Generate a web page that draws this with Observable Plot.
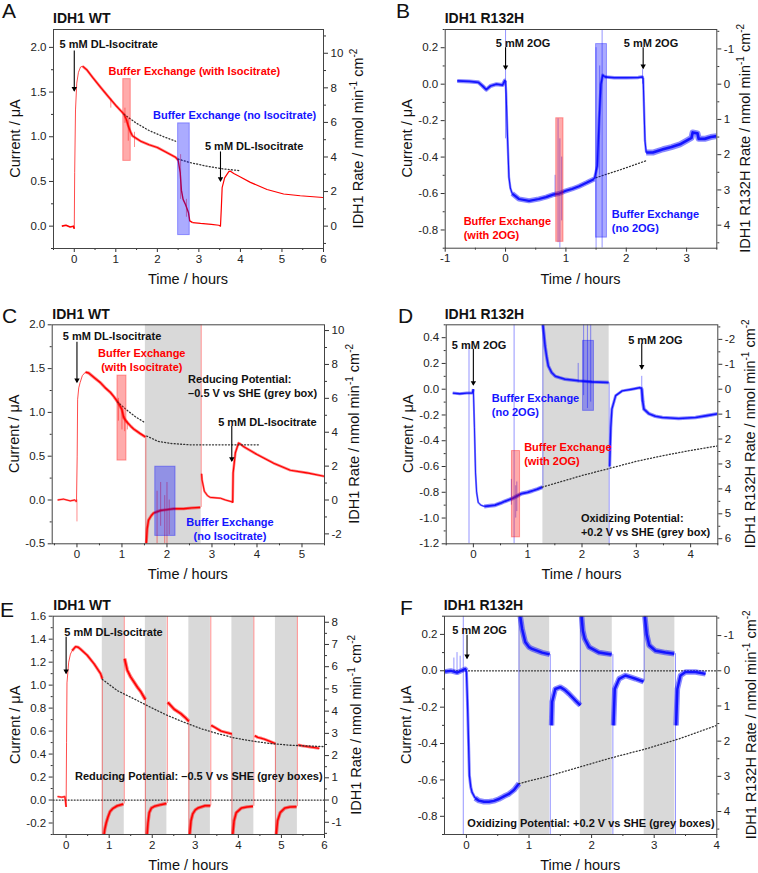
<!DOCTYPE html>
<html><head><meta charset="utf-8">
<script src="https://cdn.jsdelivr.net/npm/d3@7"></script>
<script src="https://cdn.jsdelivr.net/npm/@observablehq/plot@0.6"></script>
<style>
body{margin:0;background:#fff;font-family:"Liberation Sans",Arial,sans-serif}
#root{position:relative;width:758px;height:873px;overflow:hidden}
#root > svg{position:absolute}
</style></head>
<body><div id="root"></div>
<script>
// ---------- conversion current -> rate ----------
const K = 5.17;
// ---------- text ----------
const letters = ["A","B","C","D","E","F"];
const titles = ["IDH1 WT","IDH1 R132H","IDH1 WT","IDH1 R132H","IDH1 WT","IDH1 R132H"];
const rightLabelNames = ["IDH1 Rate","IDH1 R132H Rate","IDH1 Rate","IDH1 R132H Rate","IDH1 Rate","IDH1 R132H Rate"];
const leftLabel = "Current / μA", bottomLabel = "Time / hours";

// ---------- Panel A (IDH1 WT) ----------
const A_base = [[-0.3,0.0],[-0.2,0.01],[-0.1,-0.01],[-0.02,0.0],[0,-0.03]];
const A_rise = [[0,-0.03],[0.01,0.6],[0.03,1.3],[0.06,1.6],[0.1,1.72],[0.15,1.78],[0.2,1.79]];
const A_decay = [[0.2,1.79],[0.3,1.75],[0.45,1.66],[0.64,1.55],[0.8,1.46],[1.0,1.35],[1.1,1.3],[1.2,1.25],[1.25,1.2],[1.3,1.12],[1.35,1.06],[1.4,1.01],[1.5,0.98],[1.6,0.95],[1.8,0.91],[2.0,0.88],[2.2,0.83],[2.44,0.77],[2.5,0.74]];
const A_drop = [[2.5,0.74],[2.55,0.6],[2.58,0.4],[2.62,0.3],[2.68,0.24],[2.72,0.19],[2.75,0.15],[2.78,0.06],[2.85,0.04]];
const A_tail = [[2.85,0.04],[3.04,0.03],[3.3,0.02],[3.48,0.01],[3.52,0.0],[3.54,0.2],[3.56,0.43],[3.62,0.54],[3.72,0.61],[3.76,0.615],[3.84,0.59],[4.0,0.55],[4.24,0.49],[4.64,0.41],[5.04,0.36],[5.44,0.34],[6.0,0.32]];
const A_spikes = [[0.88,1.42,1.32],[1.22,1.32,1.15],[1.3,1.2,0.95],[1.45,1.05,0.88],[2.56,0.8,0.3],[2.7,0.3,0.1]];
const A_dot1 = [[1.2,1.25],[1.5,1.15],[1.8,1.07],[2.1,1.01],[2.44,0.95]];
const A_dot2 = [[2.5,0.75],[2.8,0.71],[3.2,0.67],[3.6,0.64],[4.0,0.62]];
const A_redBox = [[1.18,1.36,0.73,1.645]];
const A_blueBox = [[2.5,2.78,-0.1,1.15]];
const A_arrows = [[0,1.96,1.51],[3.52,0.83,0.5]];
const A_notesBlack = [[0.83,2.04,"5 mM DL-Isocitrate"],[4.33,0.905,"5 mM DL-Isocitrate"]];
const A_notesRed = [[2.89,1.746,"Buffer Exchange (with Isocitrate)"]];
const A_notesBlue = [[3.86,1.252,"Buffer Exchange (no Isocitrate)"]];

// ---------- Panel B (IDH1 R132H) ----------
const B_base = [[-0.8,0.018],[-0.6,0.015],[-0.45,0.01],[-0.38,-0.01],[-0.32,-0.03],[-0.25,-0.01],[-0.15,0.0],[-0.05,-0.005],[-0.01,0.02],[0.0,0.02]];
const B_drop = [[0.0,0.02],[0.01,-0.05],[0.03,-0.27],[0.056,-0.51],[0.08,-0.57],[0.11,-0.6]];
const B_main = [[0.11,-0.6],[0.22,-0.63],[0.39,-0.64],[0.55,-0.63],[0.67,-0.62],[0.8,-0.605],[0.89,-0.6],[1.0,-0.585],[1.1,-0.575],[1.22,-0.56],[1.35,-0.54],[1.47,-0.52]];
const B_exch = [[1.47,-0.52],[1.52,-0.45],[1.55,-0.2],[1.58,0.0],[1.61,0.05],[1.64,0.04]];
const B_flat = [[1.64,0.04],[1.8,0.035],[2.0,0.035],[2.2,0.037],[2.26,0.04],[2.28,0.035]];
const B_drop2 = [[2.28,0.035],[2.3,-0.2],[2.31,-0.31],[2.33,-0.375]];
const B_tail = [[2.33,-0.375],[2.44,-0.375],[2.61,-0.357],[2.75,-0.345],[2.89,-0.33],[3.0,-0.31],[3.08,-0.295],[3.1,-0.265],[3.18,-0.27],[3.2,-0.3],[3.3,-0.3],[3.4,-0.29],[3.5,-0.285]];
const B_spikes = [[0.0,0.3,-0.3],[0.82,-0.5,-0.62],[0.87,-0.19,-0.87],[0.9,-0.3,-0.9],[0.93,-0.4,-0.75],[1.5,0.2,-0.9],[1.6,0.3,-0.9],[1.56,0.1,-0.5],[2.27,0.08,0.0]];
const B_dot = [[1.5,-0.513],[1.9,-0.47],[2.33,-0.42]];
const B_redBox = [[0.84,0.96,-0.865,-0.187]];
const B_blueBox = [[1.5,1.68,-0.842,0.22]];
const B_arrows = [[0,0.2,0.08],[2.28,0.2,0.085]];
const B_notesBlack = [[0.29,0.229,"5 mM 2OG"],[2.41,0.229,"5 mM 2OG"]];
const B_notesRed = [[-0.694,-0.785,"Buffer Exchange\n(with 2OG)"]];
const B_notesBlue = [[1.76,-0.747,"Buffer Exchange\n(no 2OG)"]];

// ---------- Panel C (IDH1 WT, reducing potential) ----------
const C_base = [[-0.43,0.0],[-0.3,0.01],[-0.15,-0.01],[-0.05,0.0],[-0.01,-0.02]];
const C_rise = [[-0.01,-0.02],[0.005,0.5],[0.015,1.15],[0.04,1.28],[0.07,1.34],[0.12,1.42],[0.19,1.46]];
const C_decay = [[0.19,1.46],[0.26,1.45],[0.4,1.39],[0.52,1.34],[0.63,1.28],[0.74,1.23],[0.82,1.18],[0.89,1.13],[0.95,1.08],[1.0,1.03],[1.04,0.94],[1.11,0.89],[1.2,0.84],[1.26,0.81],[1.4,0.76],[1.52,0.72]];
const C_grey = [[1.54,-0.5],[1.56,-0.33],[1.59,-0.23],[1.65,-0.18],[1.7,-0.15],[1.85,-0.12],[2.0,-0.11],[2.15,-0.1],[2.37,-0.1],[2.55,-0.09],[2.74,-0.085]];
const C_after = [[2.77,0.3],[2.78,0.23],[2.83,0.1],[2.9,0.05],[2.96,0.03],[3.19,0.02],[3.3,0.0],[3.44,-0.02],[3.46,-0.03]];
const C_rise2 = [[3.46,-0.03],[3.47,0.31],[3.52,0.54],[3.59,0.65],[3.63,0.64],[3.7,0.61],[4.0,0.52],[4.37,0.42],[4.74,0.34],[5.11,0.31],[5.5,0.27]];
const C_spikes = [[0.0,0.0,-0.25],[0.92,1.16,0.9],[1.0,1.05,0.8],[1.06,0.95,0.78],[1.12,0.9,0.8],[1.53,0.72,-0.5],[1.78,0.1,-0.5],[1.86,0.2,-0.3],[1.95,0.05,-0.5],[2.0,0.2,-0.5],[2.05,0.0,-0.4],[2.76,-0.085,2.0]];
const C_dot1 = [[0.9,1.12],[1.1,1.03],[1.3,0.95],[1.52,0.88]];
const C_dot2 = [[1.55,0.73],[1.8,0.67],[2.1,0.645],[2.5,0.63],[3.0,0.63],[4.04,0.63]];
const C_greyBox = [[1.52,2.76]];
const C_redBox = [[0.9,1.1,0.45,1.42]];
const C_blueBox = [[1.74,2.19,-0.41,0.38]];
const C_arrows = [[0,1.8,1.34],[3.44,0.84,0.44]];
const C_notesBlack = [[0.78,1.877,"5 mM DL-Isocitrate"],[4.23,0.9,"5 mM DL-Isocitrate"]];
const C_notesBlackL = [[2.47,1.306,"Reducing Potential:\n–0.5 V vs SHE (grey box)"]];
const C_notesRed = [[1.44,1.603,"Buffer Exchange\n(with Isocitrate)"]];
const C_notesBlue = [[3.4,-0.33,"Buffer Exchange\n(no Isocitrate)"]];

// ---------- Panel D (IDH1 R132H, oxidizing potential) ----------
const D_base = [[-0.38,-0.03],[-0.25,-0.035],[-0.12,-0.03],[-0.02,-0.03],[0.0,0.0]];
const D_drop = [[0.0,0.0],[0.02,-0.3],[0.04,-0.65],[0.06,-0.8],[0.09,-0.88],[0.14,-0.9],[0.2,-0.91]];
const D_main = [[0.2,-0.91],[0.3,-0.905],[0.4,-0.9],[0.5,-0.885],[0.58,-0.87],[0.71,-0.85],[0.8,-0.83],[0.89,-0.81],[1.0,-0.8],[1.08,-0.79],[1.18,-0.775],[1.27,-0.76]];
const D_grey = [[1.28,0.5],[1.3,0.42],[1.32,0.335],[1.35,0.25],[1.38,0.18],[1.44,0.13],[1.51,0.1],[1.69,0.077],[1.94,0.065],[2.18,0.057],[2.49,0.052]];
const D_after = [[2.51,-0.6],[2.53,-0.3],[2.55,-0.155],[2.62,-0.05],[2.74,-0.013],[2.92,0.0],[3.08,0.013]];
const D_drop2 = [[3.08,0.013],[3.1,0.0],[3.12,-0.1],[3.14,-0.155],[3.23,-0.19],[3.35,-0.21],[3.48,-0.22],[3.78,-0.227],[4.09,-0.22],[4.3,-0.205],[4.5,-0.19]];
const D_spikes = [[-0.08,0.33,-1.2],[0.7,-0.7,-0.9],[0.75,0.5,-1.2],[0.78,-0.75,-1.0],[0.8,-0.72,-0.95],[1.28,-0.76,0.5],[1.93,0.2,0.05],[2.03,0.5,-0.05],[2.1,0.5,-0.15],[2.16,0.5,-0.1],[2.5,0.05,-1.2],[3.1,0.1,-0.1]];
const D_dot = [[1.27,-0.76],[2.0,-0.67],[2.55,-0.61],[3.0,-0.56],[3.5,-0.515],[4.0,-0.475],[4.5,-0.44]];
const D_greyBox = [[1.28,2.5]];
const D_redBox = [[0.71,0.86,-1.15,-0.48]];
const D_blueBox = [[2.02,2.22,-0.168,0.375]];
const D_arrows = [[0,0.31,0.03],[3.1,0.35,0.155]];
const D_notesBlack = [[0.105,0.348,"5 mM 2OG"],[3.35,0.387,"5 mM 2OG"]];
const D_notesBlackL = [[1.98,-1.05,"Oxidizing Potential:\n+0.2 V vs SHE (grey box)"]];
const D_notesBlue = [[0.34,-0.117,"Buffer Exchange\n(no 2OG)"]];
const D_notesRed = [[0.935,-0.5,"Buffer Exchange\n(with 2OG)"]];

// ---------- Panel E (IDH1 WT, repeated reducing pulses) ----------
const E_base = [[-0.2,0.03],[-0.1,0.025],[-0.03,0.03],[0,-0.06]];
const E_rise = [[0,-0.06],[0.01,0.5],[0.02,1.02],[0.06,1.2],[0.1,1.27],[0.14,1.3]];
const E_s1 = [[0.14,1.3],[0.22,1.335],[0.28,1.33],[0.33,1.315],[0.49,1.26],[0.65,1.185],[0.8,1.1],[0.84,1.055]];
const E_g1 = [[0.88,-0.3],[0.9,-0.25],[0.93,-0.2],[0.97,-0.15],[1.02,-0.1],[1.08,-0.075],[1.19,-0.05],[1.33,-0.035]];
const E_s2 = [[1.36,1.23],[1.42,1.13],[1.5,1.07],[1.58,1.025],[1.66,0.98],[1.74,0.94],[1.84,0.875]];
const E_g2 = [[1.88,-0.3],[1.9,-0.2],[1.93,-0.11],[1.98,-0.07],[2.05,-0.055],[2.2,-0.04],[2.33,-0.03]];
const E_s3 = [[2.36,0.85],[2.4,0.835],[2.51,0.79],[2.67,0.75],[2.76,0.72],[2.85,0.685]];
const E_g3 = [[2.87,-0.3],[2.9,-0.18],[2.94,-0.12],[3.0,-0.085],[3.06,-0.07],[3.22,-0.05],[3.35,-0.05]];
const E_s4 = [[3.37,0.65],[3.45,0.633],[3.6,0.6],[3.75,0.585],[3.85,0.575]];
const E_g4 = [[3.87,-0.3],[3.9,-0.18],[3.95,-0.11],[4.07,-0.07],[4.2,-0.06],[4.34,-0.055]];
const E_s5 = [[4.38,0.56],[4.45,0.545],[4.54,0.537],[4.6,0.53],[4.69,0.517],[4.86,0.49]];
const E_g5 = [[4.88,-0.3],[4.91,-0.18],[4.97,-0.11],[5.08,-0.07],[5.2,-0.06],[5.35,-0.058]];
const E_s6 = [[5.39,0.48],[5.47,0.473],[5.6,0.465],[5.7,0.46],[5.88,0.45]];
const E_spikes = [[0.84,1.055,-0.3],[1.84,0.875,-0.3],[2.85,0.685,-0.3],[3.85,0.575,-0.3],[4.86,0.49,-0.3],[1.35,-0.035,1.6],[2.35,-0.03,1.6],[3.36,-0.05,1.6],[4.36,-0.055,1.6],[5.37,-0.058,1.6]];
const E_dot = [[0.84,1.05],[1.2,0.95],[1.58,0.88],[2.0,0.8],[2.36,0.735],[2.75,0.675],[3.14,0.62],[3.5,0.58],[3.91,0.54],[4.3,0.515],[4.69,0.494],[5.2,0.477],[6.0,0.465]];
const E_zero = [[-0.3,0],[6,0]];
const E_greyBox = [[0.84,1.35],[1.84,2.34],[2.85,3.35],[3.85,4.36],[4.86,5.37]];
const E_arrows = [[0,1.417,1.1]];
const E_notesBlack = [[1.1,1.466,"5 mM DL-Isocitrate"],[3.08,0.21,"Reducing Potential: –0.5 V vs SHE (grey boxes)"]];

// ---------- Panel F (IDH1 R132H, repeated oxidizing pulses) ----------
const F_base = [[-0.35,-0.005],[-0.25,0.0],[-0.15,-0.01],[-0.08,0.0],[-0.02,0.01],[0.0,0.0]];
const F_drop = [[0.0,0.0],[0.015,-0.15],[0.027,-0.3],[0.048,-0.576],[0.07,-0.64],[0.09,-0.668],[0.14,-0.7]];
const F_main = [[0.14,-0.7],[0.2,-0.714],[0.28,-0.72],[0.36,-0.72],[0.44,-0.715],[0.52,-0.705],[0.6,-0.69],[0.68,-0.677],[0.76,-0.655],[0.84,-0.62]];
const F_g1 = [[0.86,0.3],[0.89,0.23],[0.94,0.158],[1.0,0.13],[1.05,0.12],[1.21,0.1],[1.33,0.09]];
const F_s2 = [[1.36,-0.3],[1.37,-0.17],[1.42,-0.1],[1.5,-0.09],[1.57,-0.105],[1.64,-0.127],[1.74,-0.163],[1.82,-0.19]];
const F_g2 = [[1.84,0.3],[1.86,0.22],[1.89,0.176],[1.96,0.13],[2.12,0.1],[2.32,0.09]];
const F_s3 = [[2.35,-0.3],[2.37,-0.1],[2.44,-0.044],[2.54,-0.026],[2.62,-0.035],[2.7,-0.044],[2.83,-0.06]];
const F_g3 = [[2.85,0.3],[2.88,0.2],[2.92,0.14],[3.02,0.11],[3.18,0.1],[3.32,0.094]];
const F_s4 = [[3.35,-0.3],[3.37,-0.1],[3.42,-0.026],[3.5,-0.007],[3.66,-0.007],[3.82,-0.017]];
const F_spikes = [[-0.2,0.07,0],[-0.15,0.1,0],[-0.1,0.08,0],[-0.05,0.3,-0.9],[0.84,-0.62,0.3],[1.82,-0.19,0.3],[2.84,-0.06,0.3],[1.34,0.09,-0.9],[2.34,0.09,-0.9],[3.34,0.094,-0.9]];
const F_dot = [[0.84,-0.62],[1.3,-0.58],[1.8,-0.53],[2.3,-0.48],[2.86,-0.43],[3.4,-0.374],[4.0,-0.3]];
const F_zero = [[-0.35,0],[4,0]];
const F_greyBox = [[0.84,1.33],[1.82,2.33],[2.84,3.33]];
const F_arrows = [[0.01,0.195,0.066]];
const F_notesBlack = [[0.21,0.227,"5 mM 2OG"],[1.99,-0.833,"Oxidizing Potential: +0.2 V vs SHE (grey boxes)"]];

// ---------- axis tick values ----------
const A_xt=[0,1,2,3,4,5,6], A_xm=[-0.5,0.5,1.5,2.5,3.5,4.5,5.5], A_yt=[0,0.5,1,1.5,2], A_ym=[-0.25,0.25,0.75,1.25,1.75], A_rt=[0,2,4,6,8,10], A_rm=[-1,1,3,5,7,9,11];
const B_xt=[-1,0,1,2,3], B_xm=[-0.5,0.5,1.5,2.5,3.5], B_yt=[-0.8,-0.6,-0.4,-0.2,0,0.2], B_ym=[-0.9,-0.7,-0.5,-0.3,-0.1,0.1,0.3], B_rt=[-1,0,1,2,3,4], B_rm=[-1.5,-0.5,0.5,1.5,2.5,3.5,4.5];
const C_xt=[0,1,2,3,4,5], C_xm=[-0.5,0.5,1.5,2.5,3.5,4.5,5.5], C_yt=[-0.5,0,0.5,1,1.5,2], C_ym=[-0.25,0.25,0.75,1.25,1.75], C_rt=[-2,0,2,4,6,8,10], C_rm=[-1,1,3,5,7,9];
const D_xt=[0,1,2,3,4], D_xm=[-0.5,0.5,1.5,2.5,3.5,4.5], D_yt=[-1.2,-1,-0.8,-0.6,-0.4,-0.2,0,0.2,0.4], D_ym=[-1.1,-0.9,-0.7,-0.5,-0.3,-0.1,0.1,0.3,0.5], D_rt=[-2,-1,0,1,2,3,4,5,6], D_rm=[-2.5,-1.5,-0.5,0.5,1.5,2.5,3.5,4.5,5.5];
const E_xt=[0,1,2,3,4,5,6], E_xm=[0.5,1.5,2.5,3.5,4.5,5.5], E_yt=[-0.2,0,0.2,0.4,0.6,0.8,1,1.2,1.4,1.6], E_ym=[-0.3,-0.1,0.1,0.3,0.5,0.7,0.9,1.1,1.3,1.5], E_rt=[-1,0,1,2,3,4,5,6,7,8], E_rm=[-1.5,-0.5,0.5,1.5,2.5,3.5,4.5,5.5,6.5,7.5];
const F_xt=[0,1,2,3,4], F_xm=[0.5,1.5,2.5,3.5], F_yt=[-0.8,-0.6,-0.4,-0.2,0,0.2], F_ym=[-0.9,-0.7,-0.5,-0.3,-0.1,0.1,0.3], F_rt=[-1,0,1,2,3,4], F_rm=[-1.5,-0.5,0.5,1.5,2.5,3.5,4.5];

// ---------- drawing ----------
const RED = "#ff0000", BLUE = "#1414ff", INK = "#222";
const px = d => d[0], py = d => d[1];
const fmt1 = d => (Math.abs(d) < 1e-9 ? 0 : d).toFixed(1);

function panel(p) {
  const [yLo, yHi] = p.y;
  const inDom = (v, dom) => v >= Math.min(...dom) - 1e-9 && v <= Math.max(...dom) + 1e-9;
  const marks = [];
  if (p.grey) marks.push(Plot.rect(p.grey, {x1: d => d[0], x2: d => d[1], y1: () => yLo, y2: () => yHi, fill: "#d9d9d9"}));
  if (p.zero) marks.push(Plot.line(p.zero, {x: px, y: py, stroke: "#333", strokeWidth: 1.2, strokeDasharray: "1,2"}));
  for (const s of p.lines) {
    if (s.w >= 2) {
      marks.push(Plot.line(s.d, {x: px, y: py, stroke: p.color, strokeWidth: s.w, strokeOpacity: 0.5, strokeLinecap: "butt", clip: true}));
      marks.push(Plot.line(s.d, {x: px, y: py, stroke: p.color, strokeWidth: s.w * 0.45, strokeLinecap: "butt", clip: true}));
    } else {
      marks.push(Plot.line(s.d, {x: px, y: py, stroke: p.color, strokeWidth: s.w, strokeOpacity: s.o ?? 1, strokeLinecap: "butt", clip: true}));
    }
  }
  if (p.spikes) marks.push(Plot.ruleX(p.spikes, {x: d => d[0], y1: d => d[1], y2: d => d[2], stroke: p.color, strokeOpacity: 0.45, strokeWidth: 1, clip: true}));
  for (const dd of p.dots) marks.push(Plot.line(dd, {x: px, y: py, stroke: "#333", strokeWidth: 1.3, strokeDasharray: "1,2.2", clip: true}));
  if (p.redBox) marks.push(Plot.rect(p.redBox, {x1: d => d[0], x2: d => d[1], y1: d => d[2], y2: d => d[3], fill: RED, fillOpacity: 0.33, stroke: RED, strokeOpacity: 0.35}));
  if (p.blueBox) marks.push(Plot.rect(p.blueBox, {x1: d => d[0], x2: d => d[1], y1: d => d[2], y2: d => d[3], fill: "#0000ff", fillOpacity: 0.33, stroke: "#0000ff", strokeOpacity: 0.35}));
  // arrows
  marks.push(Plot.ruleX(p.arrows, {x: d => d[0], y1: d => d[1], y2: d => d[2], stroke: "#000", strokeWidth: 1.1}));
  marks.push(Plot.dot(p.arrows, {x: d => d[0], y: d => d[2], symbol: "triangle", rotate: 180, r: 2, fill: "#000", stroke: null, dy: -2.6}));
  // annotations
  const txt = (arr, fill, anchor) => arr && marks.push(Plot.text(arr, {x: d => d[0], y: d => d[1], text: d => d[2], fill, textAnchor: anchor, fontWeight: "bold", fontSize: 11, lineHeight: 1.27}));
  txt(p.nBlack, "#111", "middle");
  txt(p.nBlackL, "#111", "start");
  txt(p.nRed, RED, p.redAnchor || "middle");
  txt(p.nBlue, BLUE, p.blueAnchor || "middle");
  // axes
  const xt = p.xt.filter(v => inDom(v, p.x)), xm = p.xm.filter(v => inDom(v, p.x));
  const yt = p.yt.filter(v => inDom(v, p.y)), ym = p.ym.filter(v => inDom(v, p.y));
  const rt = p.rt.map(r => r * p.sign / K).filter(v => inDom(v, p.y));
  const rm = p.rm.map(r => r * p.sign / K).filter(v => inDom(v, p.y));
  marks.push(Plot.axisX({ticks: xt, tickSize: 4, tickPadding: 2, tickFormat: d => String(d), label: null, stroke: "#333"}));
  marks.push(Plot.axisX({ticks: xm, tickSize: 2, tickFormat: () => "", label: null, stroke: "#333"}));
  marks.push(Plot.axisY({ticks: yt, tickSize: 4, tickPadding: 3, tickFormat: fmt1, label: null, stroke: "#333"}));
  marks.push(Plot.axisY({ticks: ym, tickSize: 2, tickFormat: () => "", label: null, stroke: "#333"}));
  marks.push(Plot.axisY({anchor: "right", ticks: rt, tickSize: 4, tickPadding: 3, tickFormat: d => String(Math.round(d * K * p.sign)), label: null, stroke: "#333"}));
  marks.push(Plot.axisY({anchor: "right", ticks: rm, tickSize: 2, tickFormat: () => "", label: null, stroke: "#333"}));
  marks.push(Plot.frame({stroke: "#444", strokeWidth: 1}));
  const svg = Plot.plot({
    width: p.w, height: p.h,
    marginLeft: p.m[0], marginRight: p.m[1], marginTop: p.m[2], marginBottom: p.m[3],
    x: {domain: p.x}, y: {domain: p.y},
    style: {fontFamily: "'Liberation Sans', Arial, sans-serif", fontSize: "11.5px", color: INK, background: "transparent", overflow: "visible"},
    marks
  });
  svg.style.left = p.left + "px";
  svg.style.top = p.top + "px";
  return svg;
}

const panels = [
  {left: 0, top: 0, w: 379, h: 290, m: [53, 56, 29, 42], x: [-0.5, 6], y: [-0.25, 2.2], sign: 1, color: RED,
   lines: [{d: A_base, w: 1.6}, {d: A_rise, w: 1, o: 0.7}, {d: A_decay, w: 2.6}, {d: A_drop, w: 1.4}, {d: A_tail, w: 1.2}],
   spikes: A_spikes, dots: [A_dot1, A_dot2], redBox: A_redBox, blueBox: A_blueBox, arrows: A_arrows,
   nBlack: A_notesBlack, nRed: A_notesRed, nBlue: A_notesBlue,
   xt: A_xt, xm: A_xm, yt: A_yt, ym: A_ym, rt: A_rt, rm: A_rm},
  {left: 379, top: 0, w: 379, h: 290, m: [65.7, 41.7, 29, 42.3], x: [-1, 3.5], y: [-0.9, 0.3], sign: -1, color: BLUE,
   lines: [{d: B_base, w: 4}, {d: B_drop, w: 2.4}, {d: B_main, w: 5}, {d: B_exch, w: 3}, {d: B_flat, w: 3.4}, {d: B_drop2, w: 2.4}, {d: B_tail, w: 6}],
   spikes: B_spikes, dots: [B_dot], redBox: B_redBox, blueBox: B_blueBox, arrows: B_arrows,
   nBlack: B_notesBlack, nRed: B_notesRed, nBlue: B_notesBlue, redAnchor: "start", blueAnchor: "start",
   xt: B_xt, xm: B_xm, yt: B_yt, ym: B_ym, rt: B_rt, rm: B_rm},
  {left: 0, top: 290, w: 379, h: 290, m: [51.7, 55, 34.3, 36.7], x: [-0.55, 5.5], y: [-0.5, 2], sign: 1, color: RED,
   grey: C_greyBox,
   lines: [{d: C_base, w: 2}, {d: C_rise, w: 1, o: 0.7}, {d: C_decay, w: 3}, {d: C_grey, w: 3}, {d: C_after, w: 2.2}, {d: C_rise2, w: 2.6}],
   spikes: C_spikes, dots: [C_dot1, C_dot2], redBox: C_redBox, blueBox: C_blueBox, arrows: C_arrows,
   nBlack: C_notesBlack, nBlackL: C_notesBlackL, nRed: C_notesRed, nBlue: C_notesBlue,
   xt: C_xt, xm: C_xm, yt: C_yt, ym: C_ym, rt: C_rt, rm: C_rm},
  {left: 379, top: 290, w: 379, h: 290, m: [66.7, 40.7, 34.3, 36.7], x: [-0.5, 4.5], y: [-1.2, 0.5], sign: -1, color: BLUE,
   grey: D_greyBox,
   lines: [{d: D_base, w: 3}, {d: D_drop, w: 2}, {d: D_main, w: 4}, {d: D_grey, w: 3.4}, {d: D_after, w: 3}, {d: D_drop2, w: 3.6}],
   spikes: D_spikes, dots: [D_dot], redBox: D_redBox, blueBox: D_blueBox, arrows: D_arrows,
   nBlack: D_notesBlack, nBlackL: D_notesBlackL, nRed: D_notesRed, nBlue: D_notesBlue, redAnchor: "start", blueAnchor: "start",
   xt: D_xt, xm: D_xm, yt: D_yt, ym: D_ym, rt: D_rt, rm: D_rm},
  {left: 0, top: 580, w: 379, h: 293, m: [52.7, 55, 35.7, 39], x: [-0.3, 6], y: [-0.3, 1.6], sign: 1, color: RED,
   grey: E_greyBox, zero: E_zero,
   lines: [{d: E_base, w: 2}, {d: E_rise, w: 1, o: 0.7}, {d: E_s1, w: 3}, {d: E_g1, w: 3.4}, {d: E_s2, w: 3.6}, {d: E_g2, w: 3.4}, {d: E_s3, w: 3.6}, {d: E_g3, w: 3.4}, {d: E_s4, w: 3}, {d: E_g4, w: 3.4}, {d: E_s5, w: 3}, {d: E_g5, w: 3.4}, {d: E_s6, w: 3}],
   spikes: E_spikes, dots: [E_dot], arrows: E_arrows,
   nBlack: E_notesBlack,
   xt: E_xt, xm: E_xm, yt: E_yt, ym: E_ym, rt: E_rt, rm: E_rm},
  {left: 379, top: 580, w: 379, h: 293, m: [65, 41.7, 35.7, 39], x: [-0.35, 4], y: [-0.9, 0.3], sign: -1, color: BLUE,
   grey: F_greyBox, zero: F_zero,
   lines: [{d: F_base, w: 5}, {d: F_drop, w: 3}, {d: F_main, w: 5.5}, {d: F_g1, w: 5.5}, {d: F_s2, w: 5.5}, {d: F_g2, w: 5.5}, {d: F_s3, w: 5.5}, {d: F_g3, w: 5.5}, {d: F_s4, w: 5.5}],
   spikes: F_spikes, dots: [F_dot], arrows: F_arrows,
   nBlack: F_notesBlack,
   xt: F_xt, xm: F_xm, yt: F_yt, ym: F_ym, rt: F_rt, rm: F_rm}
];

const root = document.getElementById("root");
panels.forEach(p => root.appendChild(panel(p)));

// ---------- overlay with panel letters, titles and axis labels ----------
const letterPos = [[2,18],[396,18],[2,323],[398,323],[0,617],[400,614.5]];
const titlePos = [[53,22.7],[444.7,22.7],[52.3,319.3],[444.7,319.3],[53.3,610],[443.7,610]];
const rightX = [358,745,354,750,356,751];
const NS = "http://www.w3.org/2000/svg";
const ov = document.createElementNS(NS, "svg");
ov.setAttribute("width", 758); ov.setAttribute("height", 873);
ov.style.left = "0px"; ov.style.top = "0px"; ov.style.pointerEvents = "none";
ov.setAttribute("font-family", "'Liberation Sans', Arial, sans-serif");
function addText(x, y, str, attrs, rot) {
  const t = document.createElementNS(NS, "text");
  t.setAttribute("x", 0); t.setAttribute("y", 0);
  t.setAttribute("transform", `translate(${x},${y})` + (rot ? ` rotate(${rot})` : ""));
  for (const k in attrs) t.setAttribute(k, attrs[k]);
  if (Array.isArray(str)) {
    for (const part of str) {
      const s = document.createElementNS(NS, "tspan");
      s.textContent = part.t;
      if (part.sup) { s.setAttribute("dy", -5); s.setAttribute("font-size", 10); }
      if (part.down) { s.setAttribute("dy", 5); }
      t.appendChild(s);
    }
  } else t.textContent = str;
  ov.appendChild(t);
  return t;
}
panels.forEach((p, i) => {
  const fl = p.left + p.m[0], fr = p.left + p.w - p.m[1], ft = p.top + p.m[2], fb = p.top + p.h - p.m[3];
  const cx = (fl + fr) / 2, cy = (ft + fb) / 2;
  addText(letterPos[i][0], letterPos[i][1], letters[i], {"font-size": 21, fill: "#111"});
  addText(titlePos[i][0], titlePos[i][1], titles[i], {"font-size": 14, "font-weight": "bold", fill: "#111"});
  addText(fl - 38, cy, leftLabel, {"font-size": 14.5, "text-anchor": "middle", "dominant-baseline": "central", fill: "#111"}, -90);
  addText(cx, fb + 31, bottomLabel, {"font-size": 14.5, "text-anchor": "middle", "dominant-baseline": "central", fill: "#111"});
  addText(rightX[i], cy, [
    {t: rightLabelNames[i] + " / nmol min"}, {t: "-1", sup: true}, {t: " cm", down: true}, {t: "-2", sup: true}
  ], {"font-size": 14.5, "text-anchor": "middle", "dominant-baseline": "central", fill: "#111"}, -90);
});
root.appendChild(ov);
</script>
</body></html>
